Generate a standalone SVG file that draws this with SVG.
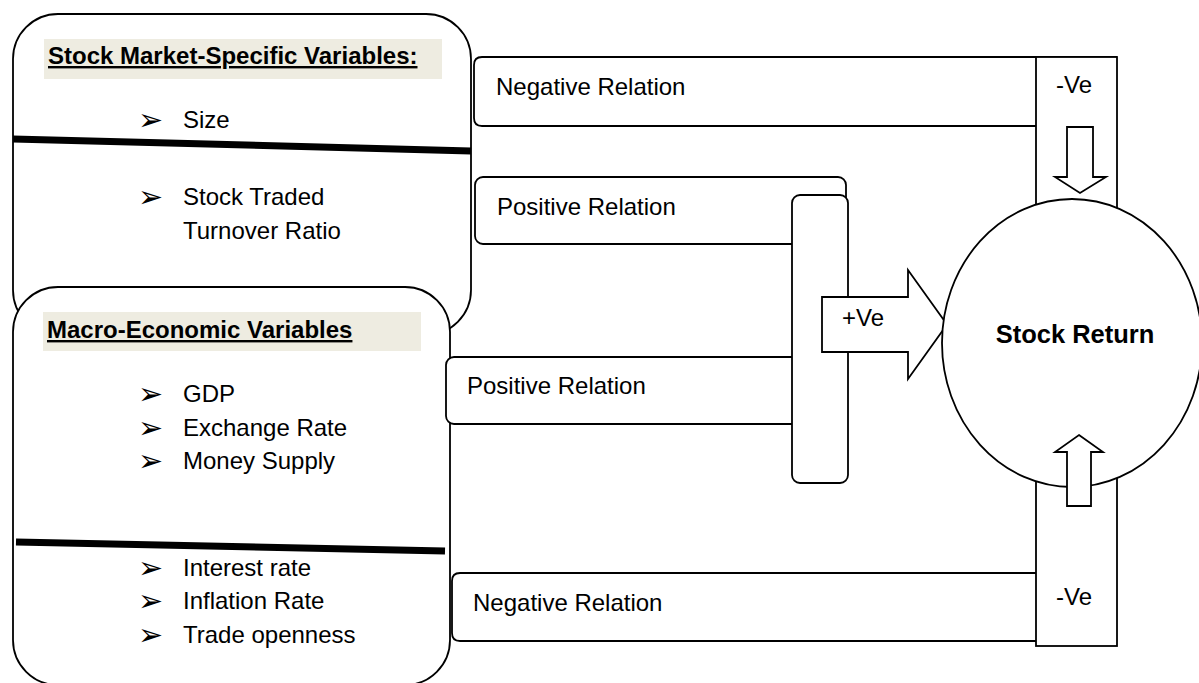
<svg xmlns="http://www.w3.org/2000/svg" width="1199" height="683" viewBox="0 0 1199 683">
<style>
.box{fill:#fff;stroke:#000;stroke-width:1.8}
.div{stroke:#000;stroke-width:7;fill:none}
.hdrbg{fill:#EEECE1}
.hdr{font-family:"Liberation Sans",Arial,sans-serif;font-size:24px;font-weight:bold;text-decoration:underline;fill:#000}
.t{font-family:"Liberation Sans",Arial,sans-serif;font-size:24px;fill:#000}
.b{font-family:"DejaVu Sans",sans-serif;font-size:30px;fill:#000}
.bold{font-weight:bold}
</style>
<rect width="1199" height="683" fill="#fff"/>
<g id="stock-market-vars">
<rect class="box" x="13" y="14" width="458" height="321" rx="45" ry="45"/>
<rect class="hdrbg" x="44" y="39" width="398" height="40"/>
<text class="hdr" x="48" y="64">Stock Market-Specific Variables:</text>
<text class="b" x="138" y="130">➢</text>
<text class="t" x="183" y="128">Size</text>
<line class="div" x1="13" y1="139" x2="471" y2="151"/>
<text class="b" x="138" y="207">➢</text>
<text class="t" x="183" y="205">Stock Traded</text>
<text class="t" x="183" y="239">Turnover Ratio</text>
</g>
<g id="macro-vars">
<rect class="box" x="13" y="287" width="437" height="398" rx="45" ry="45"/>
<rect class="hdrbg" x="43" y="312" width="378" height="39"/>
<text class="hdr" x="47" y="338">Macro-Economic Variables</text>
<text class="b" x="138" y="404">➢</text>
<text class="t" x="183" y="402">GDP</text>
<text class="b" x="138" y="438">➢</text>
<text class="t" x="183" y="436">Exchange Rate</text>
<text class="b" x="138" y="471">➢</text>
<text class="t" x="183" y="469">Money Supply</text>
<line class="div" x1="16" y1="542" x2="445" y2="551"/>
<text class="b" x="138" y="578">➢</text>
<text class="t" x="183" y="576">Interest rate</text>
<text class="b" x="138" y="611">➢</text>
<text class="t" x="183" y="609">Inflation Rate</text>
<text class="b" x="138" y="645">➢</text>
<text class="t" x="183" y="643">Trade openness</text>
</g>
<g id="connectors">
<g id="neg-relation-top">
<path class="box" d="M1117,57 H482 Q474,57 474,65 V118 Q474,126 482,126 H1036"/>
<text class="t" x="496" y="95">Negative Relation</text>
</g>
<g id="pos-relation-top">
<rect class="box" x="475" y="177" width="371" height="67" rx="8" ry="8"/>
<text class="t" x="497" y="215">Positive Relation</text>
</g>
<g id="pos-relation-mid">
<rect class="box" x="446" y="357" width="360" height="67" rx="8" ry="8"/>
<text class="t" x="467" y="394">Positive Relation</text>
</g>
<g id="pos-bar">
<rect class="box" x="792" y="195" width="56" height="288" rx="8" ry="8"/>
</g>
<g id="pos-arrow">
<polygon class="box" points="822,297 908,297 908,270 947,324.5 908,379 908,352 822,352"/>
<text class="t" x="842" y="326">+Ve</text>
</g>
<g id="neg-relation-bottom">
<path class="box" d="M1036,573 H460 Q452,573 452,581 V633 Q452,641 460,641 H1036"/>
<text class="t" x="473" y="611">Negative Relation</text>
</g>
<g id="neg-column">
<rect class="box" x="1036" y="57" width="81" height="589"/>
<text class="t" x="1056" y="93">-Ve</text>
<text class="t" x="1056" y="605">-Ve</text>
</g>
</g>
<g id="stock-return">
<ellipse class="box" cx="1072" cy="343" rx="130" ry="144"/>
<text class="t bold" x="1075" y="343" text-anchor="middle" style="font-size:25.5px">Stock Return</text>
</g>
<g id="arrows">
<polygon class="box" points="1067,127 1093,127 1093,177 1106,177 1080,193 1055,177 1067,177"/>
<polygon class="box" points="1079,435 1103,452 1091,452 1091,506 1067,506 1067,452 1055,452"/>
</g>
</svg>
